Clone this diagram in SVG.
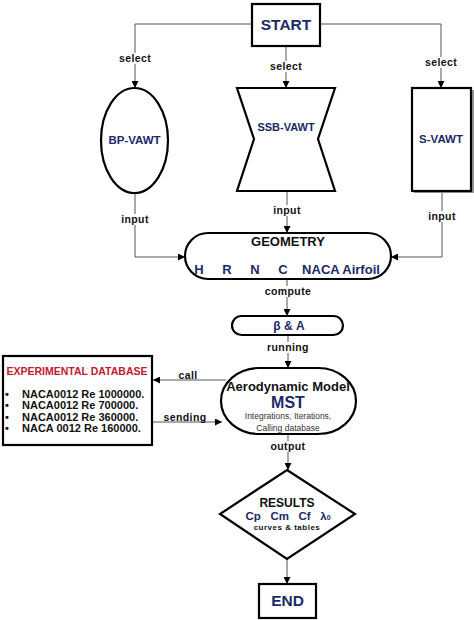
<svg xmlns="http://www.w3.org/2000/svg" width="474" height="620" viewBox="0 0 474 620">
<defs>
<marker id="ah" viewBox="0 0 10 10" refX="10" refY="5" markerWidth="7" markerHeight="7" markerUnits="userSpaceOnUse" orient="auto">
<path d="M0,0 L10,5 L0,10 z" fill="#000"/>
</marker>
<style>
.ln{fill:none;stroke:#555;stroke-width:1}
.sh{fill:#fff;stroke:#000;stroke-width:2.2}
.lb{font-family:"Liberation Sans",Arial,sans-serif;font-weight:bold;font-size:10.5px;letter-spacing:0.4px;fill:#111;text-anchor:middle}
.bl{font-family:"Liberation Sans",Arial,sans-serif;font-weight:bold;fill:#1b2a66;text-anchor:middle}
.bk{font-family:"Liberation Sans",Arial,sans-serif;font-weight:bold;fill:#111;text-anchor:middle}
</style>
</defs>
<rect width="474" height="620" fill="#fff"/>
<g id="connectors">
<path class="ln" d="M251,24 H135 V88" marker-end="url(#ah)"/>
<path class="ln" d="M320,24 H441 V88" marker-end="url(#ah)"/>
<path class="ln" d="M286,46 V88" marker-end="url(#ah)"/>
<path class="ln" d="M135,193 V257 H185" marker-end="url(#ah)"/>
<path class="ln" d="M287,191 V233" marker-end="url(#ah)"/>
<path class="ln" d="M442,191 V257 H391" marker-end="url(#ah)"/>
<path class="ln" d="M287,279 V316" marker-end="url(#ah)"/>
<path class="ln" d="M288,335 V368" marker-end="url(#ah)"/>
<path class="ln" d="M226,380 H153" marker-end="url(#ah)"/>
<path class="ln" d="M153,422 H222" marker-end="url(#ah)"/>
<path class="ln" d="M288,434 V470" marker-end="url(#ah)"/>
<path class="ln" d="M287,559 V584" marker-end="url(#ah)"/>
<rect x="117" y="53" width="36" height="11" fill="#fff"/>
<text class="lb" x="135" y="62">select</text>
<rect x="268" y="61" width="38" height="11" fill="#fff"/>
<text class="lb" x="286" y="70">select</text>
<rect x="423" y="57" width="36" height="11" fill="#fff"/>
<text class="lb" x="441" y="66">select</text>
<rect x="119" y="214" width="32" height="11" fill="#fff"/>
<text class="lb" x="135" y="223">input</text>
<rect x="271" y="205" width="32" height="11" fill="#fff"/>
<text class="lb" x="287" y="214">input</text>
<rect x="426" y="211" width="32" height="11" fill="#fff"/>
<text class="lb" x="442" y="220">input</text>
<rect x="264" y="286" width="46" height="11" fill="#fff"/>
<text class="lb" x="288" y="295">compute</text>
<rect x="266" y="342" width="44" height="11" fill="#fff"/>
<text class="lb" x="288" y="351">running</text>
<text class="lb" x="188" y="379">call</text>
<text class="lb" x="185" y="421">sending</text>
<rect x="269" y="441" width="38" height="11" fill="#fff"/>
<text class="lb" x="288" y="450">output</text>
</g>
<g id="start">
<rect class="sh" x="252" y="4" width="68" height="42" stroke-width="3"/>
<text class="bl" x="286" y="30" font-size="15.5">START</text>
</g>
<g id="bp-vawt">
<ellipse class="sh" cx="134.5" cy="140.5" rx="33.5" ry="52.5"/>
<text class="bl" x="134.5" y="144" font-size="11.5">BP-VAWT</text>
</g>
<g id="ssb-vawt">
<path class="sh" d="M237,88 H335 L318,139 L335,191 H237 L254,139 Z"/>
<text class="bl" x="286" y="131" font-size="11">SSB-VAWT</text>
</g>
<g id="s-vawt">
<rect x="414" y="90" width="60" height="103" fill="#999"/>
<rect class="sh" x="412" y="88" width="59" height="103" stroke-width="2.5"/>
<text class="bl" x="441" y="143" font-size="11.5">S-VAWT</text>
</g>
<g id="geometry">
<rect class="sh" x="185" y="233" width="206" height="46" rx="23" ry="23"/>
<text class="bk" x="288" y="246" font-size="13">GEOMETRY</text>
<text class="bl" x="199" y="274" font-size="13">H</text>
<text class="bl" x="227" y="274" font-size="13">R</text>
<text class="bl" x="255" y="274" font-size="13">N</text>
<text class="bl" x="283" y="274" font-size="13">C</text>
<text class="bl" x="341" y="274" font-size="13">NACA Airfoil</text>
</g>
<g id="beta-a">
<rect class="sh" x="232" y="316" width="111" height="19" rx="9.5" ry="9.5"/>
<text class="bl" x="289" y="330" font-size="12">β &amp; A</text>
</g>
<g id="aero">
<rect class="sh" x="221" y="368" width="135" height="66" rx="38" ry="33"/>
<text class="bk" x="288" y="391" font-size="13">Aerodynamic Model</text>
<text class="bl" x="288" y="408" font-size="16">MST</text>
<text x="288" y="419" font-family="'Liberation Sans',Arial,sans-serif" font-size="8.5" fill="#333" text-anchor="middle">Integrations, Iterations,</text>
<text x="288" y="431" font-family="'Liberation Sans',Arial,sans-serif" font-size="8.5" fill="#333" text-anchor="middle">Calling database</text>
</g>
<g id="database">
<rect class="sh" x="3" y="356" width="149" height="89" stroke-width="2.5"/>
<text x="77" y="375" font-family="'Liberation Sans',Arial,sans-serif" font-weight="bold" font-size="10.5" fill="#c0202a" text-anchor="middle">EXPERIMENTAL DATABASE</text>
<g font-family="'Liberation Sans',Arial,sans-serif" font-weight="bold" font-size="11" fill="#111">
<text x="5" y="398">•</text><text x="22" y="398">NACA0012 Re 1000000.</text>
<text x="5" y="409">•</text><text x="22" y="409">NACA0012 Re 700000.</text>
<text x="5" y="421">•</text><text x="22" y="421">NACA0012 Re 360000.</text>
<text x="5" y="432">•</text><text x="22" y="432">NACA 0012 Re 160000.</text>
</g>
</g>
<g id="results">
<path class="sh" d="M287,470 L355,514 L287,559 L220,514 Z"/>
<text class="bk" x="287" y="507" font-size="12">RESULTS</text>
<text class="bl" x="288" y="520" font-size="11.5" xml:space="preserve">Cp   Cm   Cf   λ<tspan font-size="7">0</tspan></text>
<text class="bk" x="287" y="530" font-size="8" letter-spacing="0.5">curves &amp; tables</text>
</g>
<g id="end">
<rect class="sh" x="259" y="584" width="57" height="34" stroke-width="3"/>
<text class="bl" x="287.5" y="606" font-size="15.5">END</text>
</g>
</svg>
